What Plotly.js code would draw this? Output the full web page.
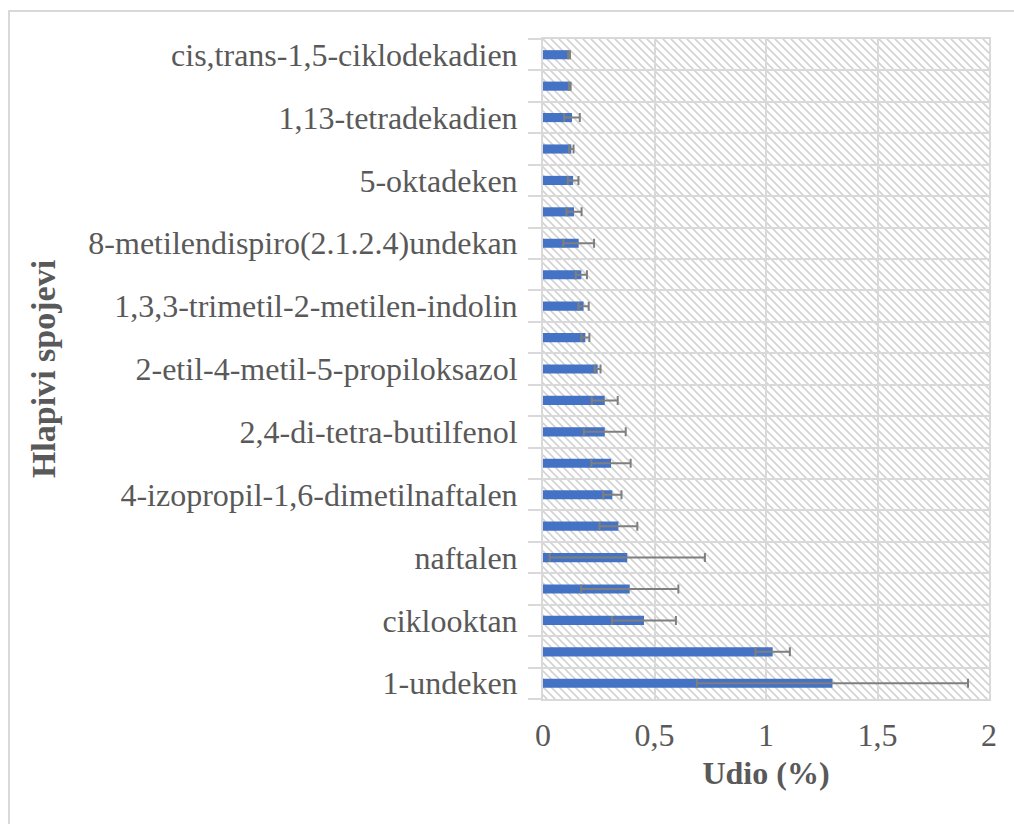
<!DOCTYPE html>
<html>
<head>
<meta charset="utf-8">
<script src="https://cdn.plot.ly/plotly-3.0.1.min.js"></script>
<style>
  html, body { margin: 0; padding: 0; background: #ffffff; }
  #chart { width: 1014px; height: 824px; position: relative; }
  #frame { position: absolute; left: 8px; top: 10px; width: 1100px; height: 900px;
           border-left: 2px solid #d9d9d9; border-top: 2px solid #d9d9d9;
           pointer-events: none; z-index: 5; }
</style>
</head>
<body>
<div id="chart"></div>
<div id="frame"></div>
<script>
// Categories, top to bottom (only every other one carries a visible label)
const categories = [
  "cis,trans-1,5-ciklodekadien", "",
  "1,13-tetradekadien", "",
  "5-oktadeken", "",
  "8-metilendispiro(2.1.2.4)undekan", "",
  "1,3,3-trimetil-2-metilen-indolin", "",
  "2-etil-4-metil-5-propiloksazol", "",
  "2,4-di-tetra-butilfenol", "",
  "4-izopropil-1,6-dimetilnaftalen", "",
  "naftalen", "",
  "ciklooktan", "",
  "1-undeken"
];
// Udio (%) values
const values = [0.117, 0.120, 0.130, 0.127, 0.135, 0.139, 0.160, 0.172, 0.182, 0.190,
                0.245, 0.277, 0.277, 0.305, 0.311, 0.338, 0.378, 0.389, 0.453, 1.030, 1.298];
// Error (± standard deviation)
const errors = [0.004, 0.004, 0.035, 0.010, 0.024, 0.034, 0.069, 0.025, 0.023, 0.018,
                0.013, 0.058, 0.094, 0.088, 0.041, 0.085, 0.348, 0.218, 0.143, 0.077, 0.608];
const xTicks = [0, 0.5, 1, 1.5, 2];

const idx = categories.map((_, i) => i);
const labelIdx = idx.filter(i => categories[i] !== "");
const bounds = [];
for (let i = 0; i <= categories.length; i++) bounds.push(i - 0.5);

const textColor = '#595959';
const gridColor = '#d9d9d9';
const fontFam = '"Liberation Serif", "Times New Roman", serif';

const hatch = "<svg xmlns='http://www.w3.org/2000/svg' width='446' height='660'>" +
  "<defs><pattern id='p' width='8' height='8' patternUnits='userSpaceOnUse'>" +
  "<path d='M-2,6 L2,10 M0,0 L8,8 M6,-2 L10,2' stroke='#d2d2d2' stroke-width='1.6'/>" +
  "</pattern></defs><rect width='446' height='660' fill='white'/><rect width='446' height='660' fill='url(#p)'/></svg>";

const trace = {
  type: 'bar',
  orientation: 'h',
  x: values,
  y: idx,
  width: 0.29,
  marker: { color: '#4472c4' },
  error_x: { type: 'data', array: errors, visible: true, color: '#7f7f7f', thickness: 2, width: 4.5 },
  hoverinfo: 'x'
};

const layout = {
  width: 1014,
  height: 824,
  margin: { l: 543, r: 25, t: 39, b: 125 },
  paper_bgcolor: '#ffffff',
  plot_bgcolor: 'rgba(0,0,0,0)',
  separators: ', ',
  showlegend: false,
  font: { family: fontFam, color: textColor, size: 32 },
  images: [{
    source: 'data:image/svg+xml;charset=utf-8,' + encodeURIComponent(hatch),
    xref: 'paper', yref: 'paper', x: 0, y: 1, sizex: 1, sizey: 1,
    xanchor: 'left', yanchor: 'top', sizing: 'stretch', layer: 'below'
  }],
  xaxis: {
    range: [0, 2],
    tickmode: 'array',
    tickvals: xTicks,
    ticks: 'outside', ticklen: 7, tickcolor: 'rgba(0,0,0,0)',
    showgrid: true, gridcolor: gridColor, gridwidth: 2,
    zeroline: false,
    showline: true, mirror: true, linecolor: gridColor, linewidth: 2,
    tickfont: { family: fontFam, size: 32, color: textColor },
    title: { text: '<b>Udio (%)</b>', font: { family: fontFam, size: 32, color: textColor }, standoff: 9 },
    fixedrange: true
  },
  yaxis: {
    range: [categories.length - 0.5, -0.5],
    tickmode: 'array',
    tickvals: labelIdx,
    ticktext: labelIdx.map(i => categories[i]),
    ticks: 'outside', ticklen: 17, tickcolor: 'rgba(0,0,0,0)',
    showgrid: false,
    zeroline: false,
    showline: true, mirror: true, linecolor: gridColor, linewidth: 2,
    tickfont: { family: fontFam, size: 32, color: textColor },
    minor: {
      tickmode: 'array', tickvals: bounds,
      ticks: 'outside', ticklen: 13, tickwidth: 2, tickcolor: gridColor,
      showgrid: true, gridcolor: gridColor, gridwidth: 2
    },
    title: { text: '<b>Hlapivi spojevi</b>', font: { family: fontFam, size: 34, color: textColor }, standoff: 22 },
    fixedrange: true
  }
};

Plotly.newPlot('chart', [trace], layout, { displayModeBar: false, staticPlot: true });
</script>
</body>
</html>
